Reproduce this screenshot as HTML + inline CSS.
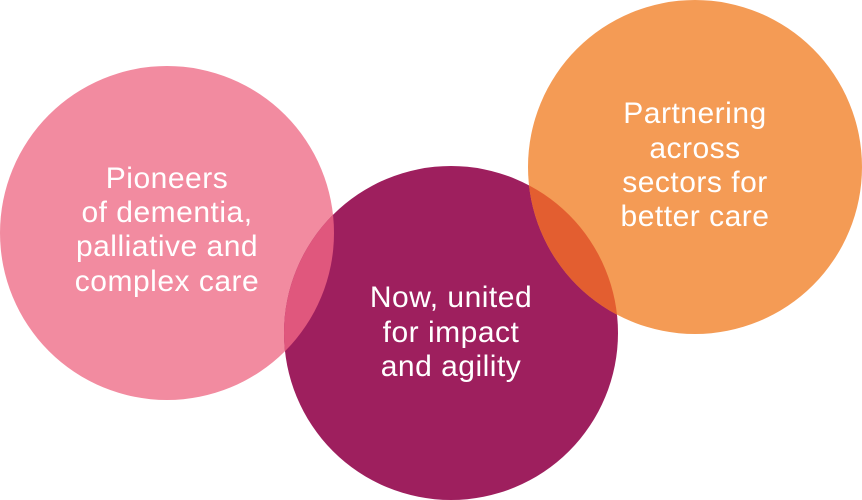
<!DOCTYPE html>
<html><head><meta charset="utf-8"><style>
html,body{margin:0;padding:0;background:#fff;width:862px;height:500px;overflow:hidden}
text{font-family:"Liberation Sans",sans-serif;font-size:30px;letter-spacing:0.5px;fill:#fff;text-anchor:middle}
</style></head><body>
<svg width="862" height="500" viewBox="0 0 862 500">
<defs>
<clipPath id="cp"><circle cx="451" cy="333" r="167"/></clipPath>
</defs>
<circle cx="167" cy="233" r="167" fill="#F28BA0"/>
<circle cx="451" cy="333" r="167" fill="#9E1F5E"/>
<circle cx="695" cy="167" r="167" fill="#F49B55"/>
<g clip-path="url(#cp)">
<circle cx="167" cy="233" r="167" fill="#E0577D"/>
<circle cx="695" cy="167" r="167" fill="#E35E30"/>
</g>
<text x="167" y="188">Pioneers</text>
<text x="167" y="222">of dementia,</text>
<text x="167" y="256">palliative and</text>
<text x="167" y="291">complex care</text>
<text x="451" y="307">Now, united</text>
<text x="451" y="342">for impact</text>
<text x="451" y="376">and agility</text>
<text x="695" y="123">Partnering</text>
<text x="695" y="158">across</text>
<text x="695" y="192">sectors for</text>
<text x="695" y="226">better care</text>
</svg>
</body></html>
